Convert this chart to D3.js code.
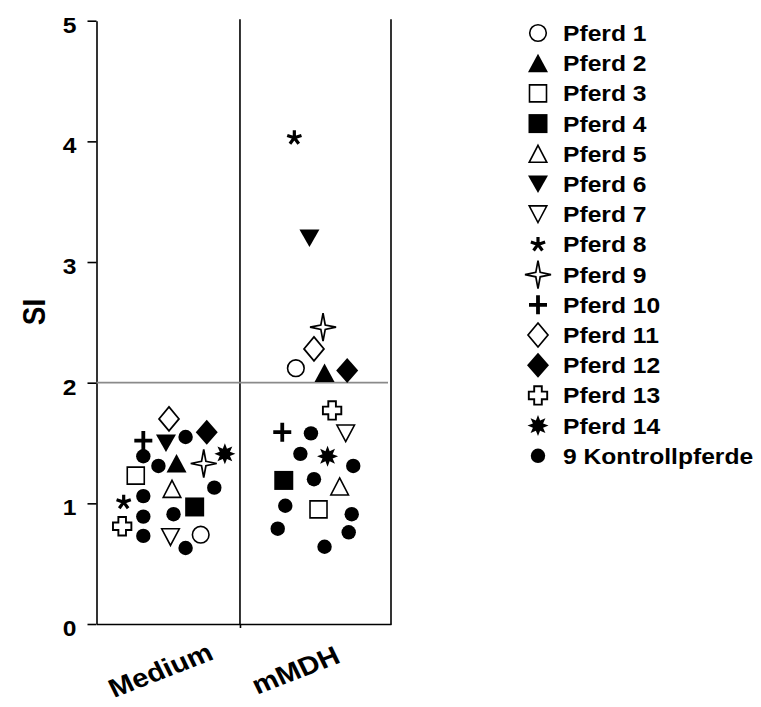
<!DOCTYPE html>
<html lang="de">
<head>
<meta charset="utf-8">
<script src="https://d3js.org/d3.v7.min.js"></script>
<style>
body { margin: 0; background: #fff; }
text { font-family: "Liberation Sans", Arial, sans-serif; font-weight: bold; fill: #000; }
</style>
</head>
<body>
<svg width="761" height="707"></svg>
<script>
// data
var categories = ["Medium", "mMDH"];
var horses = ["Pferd 1", "Pferd 2", "Pferd 3", "Pferd 4", "Pferd 5", "Pferd 6", "Pferd 7",
  "Pferd 8", "Pferd 9", "Pferd 10", "Pferd 11", "Pferd 12", "Pferd 13", "Pferd 14"];
var horseMedium = [0.74, 1.33, 1.23, 0.97, 1.12, 1.50, 0.72, 1.01, 1.33, 1.52, 1.70, 1.59, 0.81, 1.41];
var horseMMDH   = [2.12, 2.08, 0.95, 1.19, 1.14, 3.20, 1.58, 4.03, 2.46, 1.59, 2.28, 2.10, 1.77, 1.39];
// horizontal scatter inside each group, in category units
var jitterMedium = [0.24, 0.08, -0.19, 0.20, 0.05, 0.01, 0.04, -0.27, 0.26, -0.14, 0.03, 0.28, -0.28, 0.40];
var jitterMMDH   = [-0.13, 0.06, 0.02, -0.21, 0.16, -0.04, 0.20, -0.14, 0.05, -0.22, -0.01, 0.21, 0.11, 0.08];
var controlLabel = "9 Kontrollpferde";
var controlMedium = [1.55, 1.39, 1.31, 1.13, 1.06, 0.91, 0.89, 0.73, 0.63];
var controlMMDH   = [1.58, 1.41, 1.31, 1.20, 0.98, 0.91, 0.79, 0.76, 0.64];
var controlJitterMedium = [0.14, -0.14, -0.04, 0.33, -0.14, 0.06, -0.14, -0.14, 0.14];
var controlJitterMMDH   = [-0.03, -0.10, 0.25, -0.01, -0.20, 0.24, -0.25, 0.22, 0.06];
var yTicks = [0, 1, 2, 3, 4, 5];
var threshold = 2;
var yLabel = "SI";

var svg = d3.select("svg");
var stretch = 1.12; // the original text is a bit wide

var x = d3.scaleLinear().domain([0.55, 2.5]).range([96.5, 391]);
var y = d3.scaleLinear().domain([0, 5]).range([624, 20.7]);

function poly(p) { return "M" + p.map(function(q) { return q.join(","); }).join("L") + "Z"; }
function circ(r) { return "M" + r + ",0A" + r + "," + r + " 0 1,1 " + (-r) + ",0A" + r + "," + r + " 0 1,1 " + r + ",0Z"; }
function burst(ro, ri, n) {
  var p = [];
  for (var i = 0; i < 2 * n; i++) {
    var a = -Math.PI / 2 + i * Math.PI / n, r = i % 2 ? ri : ro;
    p.push([(r * Math.cos(a)).toFixed(2), (r * Math.sin(a)).toFixed(2)]);
  }
  return poly(p);
}
function aster(r) {
  var s = "";
  for (var i = 0; i < 5; i++) {
    var a = -Math.PI / 2 + i * 2 * Math.PI / 5;
    s += "M0,0L" + (r * Math.cos(a)).toFixed(2) + "," + (r * Math.sin(a)).toFixed(2);
  }
  return s;
}

var W = "#fff", K = "#000";
// one marker per horse, then the control marker
var markers = [
  { d: circ(8.3), fill: W, sw: 1.6 },
  { d: poly([[0, -9.5], [10, 9], [-10, 9]]), fill: K, sw: 0 },
  { d: poly([[-8.5, -8.5], [8.5, -8.5], [8.5, 8.5], [-8.5, 8.5]]), fill: W, sw: 1.6 },
  { d: poly([[-9.5, -9.5], [9.5, -9.5], [9.5, 9.5], [-9.5, 9.5]]), fill: K, sw: 0 },
  { d: poly([[0, -8.5], [8.8, 8.5], [-8.8, 8.5]]), fill: W, sw: 1.6 },
  { d: poly([[0, 9], [10, -8.5], [-10, -8.5]]), fill: K, sw: 0 },
  { d: poly([[0, 8.3], [8.8, -8.3], [-8.8, -8.3]]), fill: W, sw: 1.6 },
  { d: aster(7.5), fill: "none", sw: 3.2 },
  { d: poly([[0, -14], [2.2, -2.2], [13, 0], [2.2, 2.2], [0, 14], [-2.2, 2.2], [-13, 0], [-2.2, -2.2]]), fill: W, sw: 1.7 },
  { d: "M-9,0H9M0,-9.5V9.5", fill: "none", sw: 3.8 },
  { d: poly([[0, -12], [10, 0], [0, 12], [-10, 0]]), fill: W, sw: 1.7 },
  { d: poly([[0, -12.5], [11, 0], [0, 12.5], [-11, 0]]), fill: K, sw: 0 },
  { d: poly([[-3.8, -9.2], [3.8, -9.2], [3.8, -3.8], [9.2, -3.8], [9.2, 3.8], [3.8, 3.8], [3.8, 9.2], [-3.8, 9.2], [-3.8, 3.8], [-9.2, 3.8], [-9.2, -3.8], [-3.8, -3.8]]), fill: W, sw: 1.9 },
  { d: burst(10.5, 5.5, 8), fill: K, sw: 0 },
  { d: circ(7.2), fill: K, sw: 0 }
];

function drawMarker(sel, m) {
  sel.append("path")
    .attr("d", m.d)
    .attr("fill", m.fill)
    .attr("stroke", K)
    .attr("stroke-width", m.sw)
    .attr("stroke-linejoin", "miter");
}

// y axis
var yAxis = svg.append("g")
  .attr("transform", "translate(" + x(0.55) + ",0)")
  .call(d3.axisLeft(y).tickValues(yTicks).tickFormat(d3.format("d")).tickSize(9).tickSizeOuter(0));
yAxis.select(".domain").attr("stroke-width", 1.6);
yAxis.selectAll(".tick line").attr("stroke-width", 1.6);
yAxis.selectAll(".tick text")
  .attr("font-size", 22)
  .attr("font-family", "Liberation Sans, Arial, sans-serif")
  .attr("font-weight", "bold")
  .attr("x", -20 / stretch)
  .attr("dy", "0.52em")
  .attr("transform", "scale(" + stretch + ",1)");

// bottom axis with the group divider as its only tick
var xAxis = svg.append("g")
  .attr("transform", "translate(0," + y(0) + ")")
  .call(d3.axisBottom(x).tickValues([1.5]).tickFormat("").tickSize(4).tickSizeOuter(0));
xAxis.select(".domain").attr("stroke-width", 1.6);
xAxis.selectAll(".tick line").attr("stroke-width", 1.6);

svg.append("line")
  .attr("x1", x(1.5)).attr("x2", x(1.5))
  .attr("y1", y(5) - 1.5).attr("y2", y(0))
  .attr("stroke", K).attr("stroke-width", 1.6);
svg.append("line")
  .attr("x1", x(2.5)).attr("x2", x(2.5))
  .attr("y1", y(5) - 1.5).attr("y2", y(0) + 0.8)
  .attr("stroke", K).attr("stroke-width", 1.6);
svg.append("line")
  .attr("x1", x(0.55)).attr("x2", x(2.5) - 3)
  .attr("y1", y(threshold)).attr("y2", y(threshold))
  .attr("stroke", "#8a8a8a").attr("stroke-width", 1.8);

// category labels, slanted
svg.selectAll(".cat")
  .data(categories)
  .enter().append("text")
  .attr("class", "cat")
  .attr("transform", function(d, i) {
    return "translate(" + (x(i + 1) - 4 - 16 * i) + "," + 670 + ") scale(" + stretch + ",1) rotate(-23.5)";
  })
  .attr("text-anchor", "middle")
  .attr("dy", "0.35em")
  .attr("font-size", 26)
  .text(function(d) { return d; });

// y title
svg.append("text")
  .attr("transform", "translate(34," + 312 + ") scale(" + stretch + ",1) rotate(-90)")
  .attr("text-anchor", "middle")
  .attr("dy", "0.35em")
  .attr("font-size", 28)
  .text(yLabel);

// points
var pts = [];
[controlMedium, controlMMDH].forEach(function(vals, c) {
  var jit = c ? controlJitterMMDH : controlJitterMedium;
  vals.forEach(function(v, i) { pts.push({ cx: c + 1 + jit[i], v: v, m: markers[14] }); });
});
[horseMedium, horseMMDH].forEach(function(vals, c) {
  var jit = c ? jitterMMDH : jitterMedium;
  vals.forEach(function(v, i) { pts.push({ cx: c + 1 + jit[i], v: v, m: markers[i] }); });
});
pts.forEach(function(p) {
  var g = svg.append("g").attr("transform", "translate(" + x(p.cx) + "," + y(p.v) + ")");
  drawMarker(g, p.m);
});

// legend
var legendNames = horses.concat([controlLabel]);
var legend = svg.selectAll(".leg")
  .data(legendNames)
  .enter().append("g")
  .attr("class", "leg")
  .attr("transform", function(d, i) { return "translate(538," + (33 + 30.2 * i) + ")"; });
legend.each(function(d, i) { drawMarker(d3.select(this), markers[i]); });
legend.append("text")
  .attr("transform", "translate(25,0) scale(" + stretch + ",1)")
  .attr("dy", "0.36em")
  .attr("font-size", 22)
  .text(function(d) { return d; });
</script>
</body>
</html>
